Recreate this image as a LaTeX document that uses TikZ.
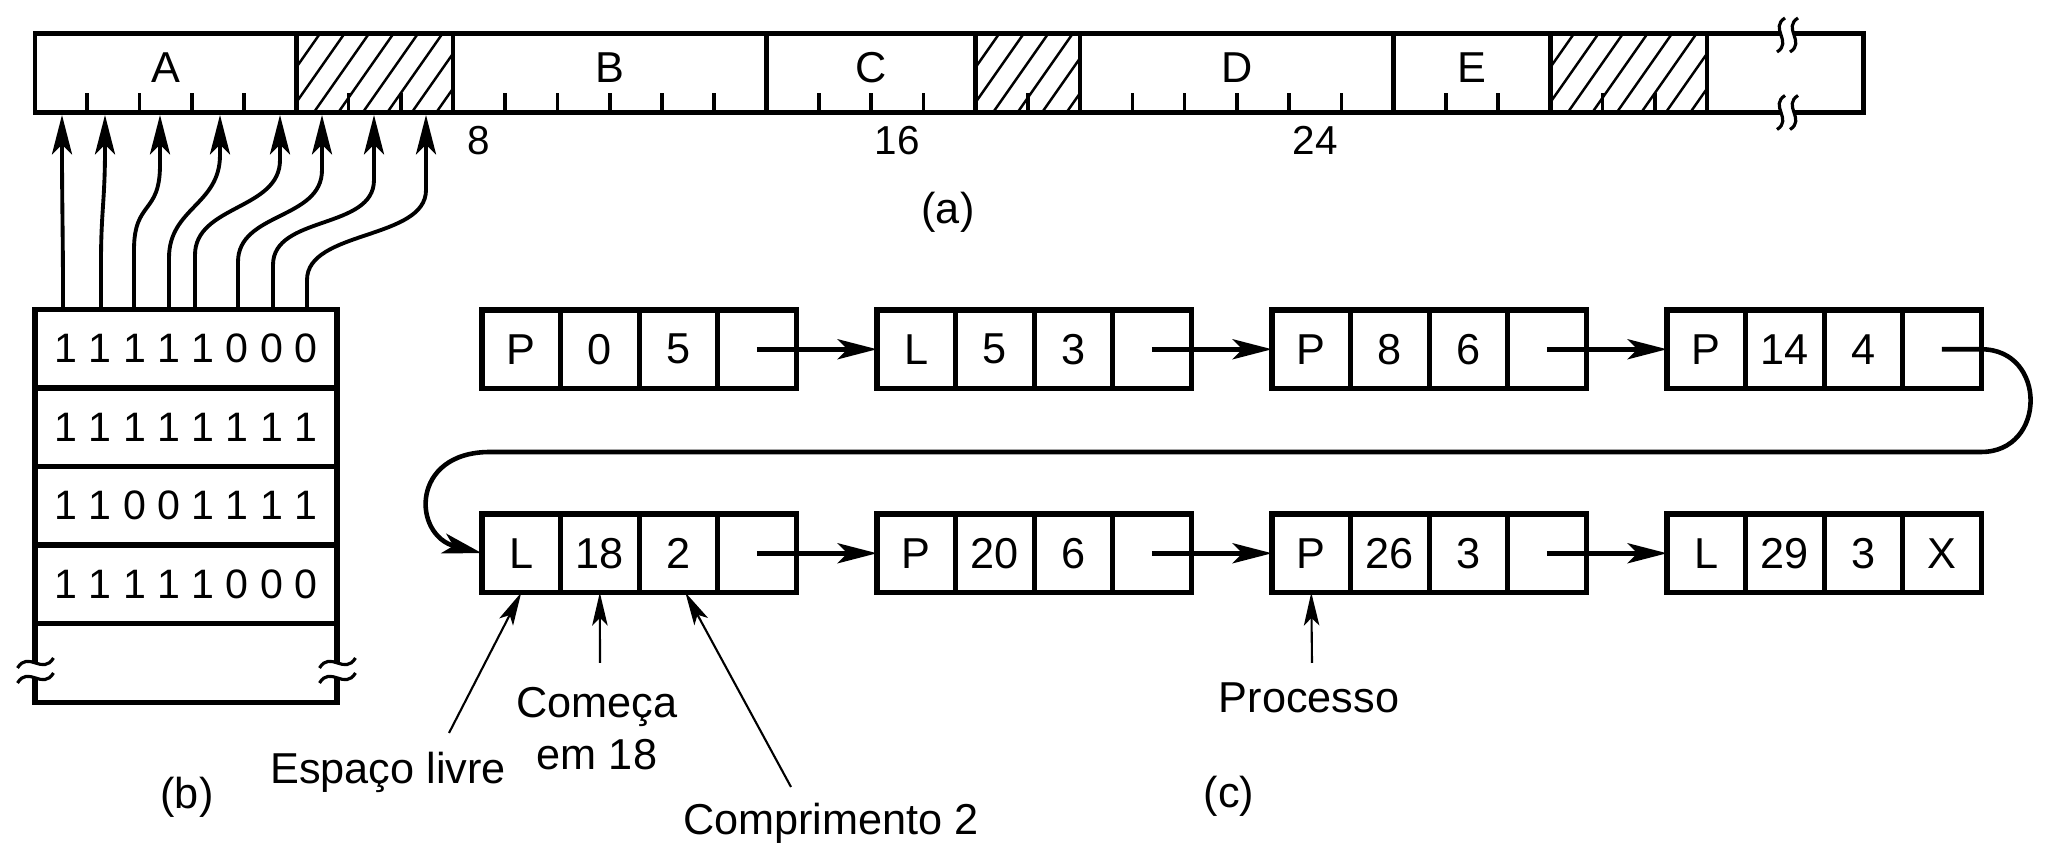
\documentclass[tikz,border=0pt]{standalone}
\usepackage{fontspec}
\setmainfont{Liberation Sans}
\usetikzlibrary{positioning}
\usetikzlibrary{arrows.meta}
\tikzset{
  cell/.style={draw,line width=1.45pt,minimum size=0.785cm,inner sep=0pt,outer sep=0pt,font=\fontsize{12.3}{14.8}\selectfont},
  bitrow/.style={draw,line width=1.5pt,minimum width=3.02cm,minimum height=0.785cm,inner sep=0pt,outer sep=0pt,font=\fontsize{11.7}{14}\selectfont},
  lab/.style={inner sep=0pt,font=\fontsize{12.3}{14.8}\selectfont},
  barline/.style={line width=1.3pt},
  tickmark/.style={line width=1pt},
  hatchline/.style={line width=0.7pt},
  breakline/.style={line width=0.9pt},
  bitarrow/.style={->,line width=1.1pt},
  linkarrow/.style={->,line width=1.3pt},
  notearrow/.style={-{Stealth[length=9.4pt,width=4.4pt,inset=2.2pt]},line width=0.6pt}
}
\begin{document}
\begin{tikzpicture}[x=0.01cm,y=-0.01cm,>={Stealth[length=11.2pt,width=5.7pt,inset=2.8pt]}]
\useasboundingbox (0,0) rectangle (2048,862);

% (a) memory, 35 allocation units
\foreach \lo/\hi in {296.25/453,975.5/1080,1550.25/1707} {
  \begin{scope}
    \clip (\lo,33.5) rectangle (\hi,112.5);
    \foreach \i in {0,...,9}
      \draw[hatchline] (\lo-56+24.5*\i,112.5) -- ++(56,-80);
  \end{scope}
}
\draw[barline] (35,33.5) rectangle (1863.75,112.5);
\foreach \u in {5,8,14,18,20,26,29,32}
  \draw[barline] (35+52.25*\u,33.5) -- ++(0,79);
\foreach \u in {1,2,3,4,6,7,9,10,11,12,13,15,16,17,19,21,22,23,24,25,27,28,30,31}
  \draw[tickmark] (35+52.25*\u,112.5) -- ++(0,-19);
\foreach \yc in {35,112.5} {
  \fill[white] (1785,\yc-17) .. controls (1769,\yc-7) and (1793,\yc+7) .. (1777,\yc+17)
    -- (1790,\yc+17) .. controls (1806,\yc+7) and (1782,\yc-7) .. (1798,\yc-17) -- cycle;
  \draw[breakline] (1785,\yc-17) .. controls (1769,\yc-7) and (1793,\yc+7) .. (1777,\yc+17);
  \draw[breakline] (1798,\yc-17) .. controls (1782,\yc-7) and (1806,\yc+7) .. (1790,\yc+17);
}
\foreach \t/\u in {A/2.5,B/11,C/16,D/23,E/27.5}
  \node[lab,anchor=base] (blk\t) at (35+52.25*\u,83) {\t};
\foreach \t/\u in {8/8.5,16/16.5,24/24.5}
  \node[lab,anchor=base,font=\fontsize{11.5}{14}\selectfont] (addr\t) at (35+52.25*\u,155) {\t};
\node[lab] (capa) at (948,212) {(a)};

% (b) bitmap
\node[bitrow] (bits1) at (186,348.75) {1 1 1 1 1 0 0 0};
\node[bitrow,below=0pt of bits1] (bits2) {1 1 1 1 1 1 1 1};
\node[bitrow,below=0pt of bits2] (bits3) {1 1 0 0 1 1 1 1};
\node[bitrow,below=0pt of bits3] (bits4) {1 1 1 1 1 0 0 0};
\node[bitrow,below=0pt of bits4] (bits5) {};
\foreach \bx in {35.5,337.5} {
  \fill[white] (\bx-18,668) .. controls (\bx-7,650) and (\bx+7,676) .. (\bx+18,658)
    -- (\bx+18,673) .. controls (\bx+7,691) and (\bx-7,665) .. (\bx-18,683) -- cycle;
  \draw[breakline] (\bx-18,668) .. controls (\bx-7,650) and (\bx+7,676) .. (\bx+18,658);
  \draw[breakline] (\bx-18,683) .. controls (\bx-7,665) and (\bx+7,691) .. (\bx+18,673);
}
\node[lab] (capb) at (187,797) {(b)};
\foreach \i/\xs/\xe/\ya/\yb in {1/63/62/290/150,2/101/105/262/150,3/134/160/250/165,4/169/220/258/155,
    5/195/280/255/160,6/238/322/262/170,7/273/374/265/180,8/307/426/280/190} {
  \coordinate (bit\i) at (\xs,309.5);
  \coordinate (slot\i) at (\xe,115);
  \draw[bitarrow] (bit\i) -- (\xs,\ya) .. controls (\xs,\ya-50) and (\xe,\yb+50) .. (\xe,\yb) -- (slot\i);
}

% (c) list of segments
\foreach \k/\x/\y/\ta/\tb/\tc/\td in {1/482/310/P/0/5/{},2/877/310/L/5/3/{},3/1272/310/P/8/6/{},
    4/1667/310/P/14/4/{},5/482/514/L/18/2/{},6/877/514/P/20/6/{},7/1272/514/P/26/3/{},8/1667/514/L/29/3/X} {
  \node[cell,anchor=north west] (r\k-1) at (\x,\y) {\ta};
  \node[cell,right=0pt of r\k-1] (r\k-2) {\tb};
  \node[cell,right=0pt of r\k-2] (r\k-3) {\tc};
  \node[cell,right=0pt of r\k-3] (r\k-4) {\td};
}
\foreach \k/\n in {1/2,2/3,3/4,5/6,6/7,7/8}
  \draw[linkarrow] (r\k-4.center) -- (r\n-1.west);
\coordinate (wrapR) at (1981,452);
\coordinate (wrapL) at (490,452);
\draw[linkarrow] (r4-4.center) -- (r4-4.east) .. controls +(66,0) and +(66,0) .. (wrapR)
  -- (wrapL) .. controls +(-80,0) and +(-70,-18) .. (r5-1.west);

\node[lab,anchor=base] (free) at (388,784) {Espaço livre};
\node[lab,anchor=base,align=center] (starts) at (597,770) {Começa\\em 18};
\node[lab,anchor=base] (len) at (831,835) {Comprimento 2};
\node[lab,anchor=base] (proc) at (1309,713) {Processo};
\node[lab] (capc) at (1229,796) {(c)};
\coordinate (freeTail) at (449,733);
\coordinate (startsTail) at (600,663);
\coordinate (lenTail) at (791,787);
\coordinate (procTail) at (1312,663);
\draw[notearrow] (freeTail) -- (r5-1.south);
\draw[notearrow] (startsTail) -- (r5-2.south);
\draw[notearrow] (lenTail) -- ([xshift=2pt]r5-3.south);
\draw[notearrow] (procTail) -- (r7-1.south);
\end{tikzpicture}
\end{document}
